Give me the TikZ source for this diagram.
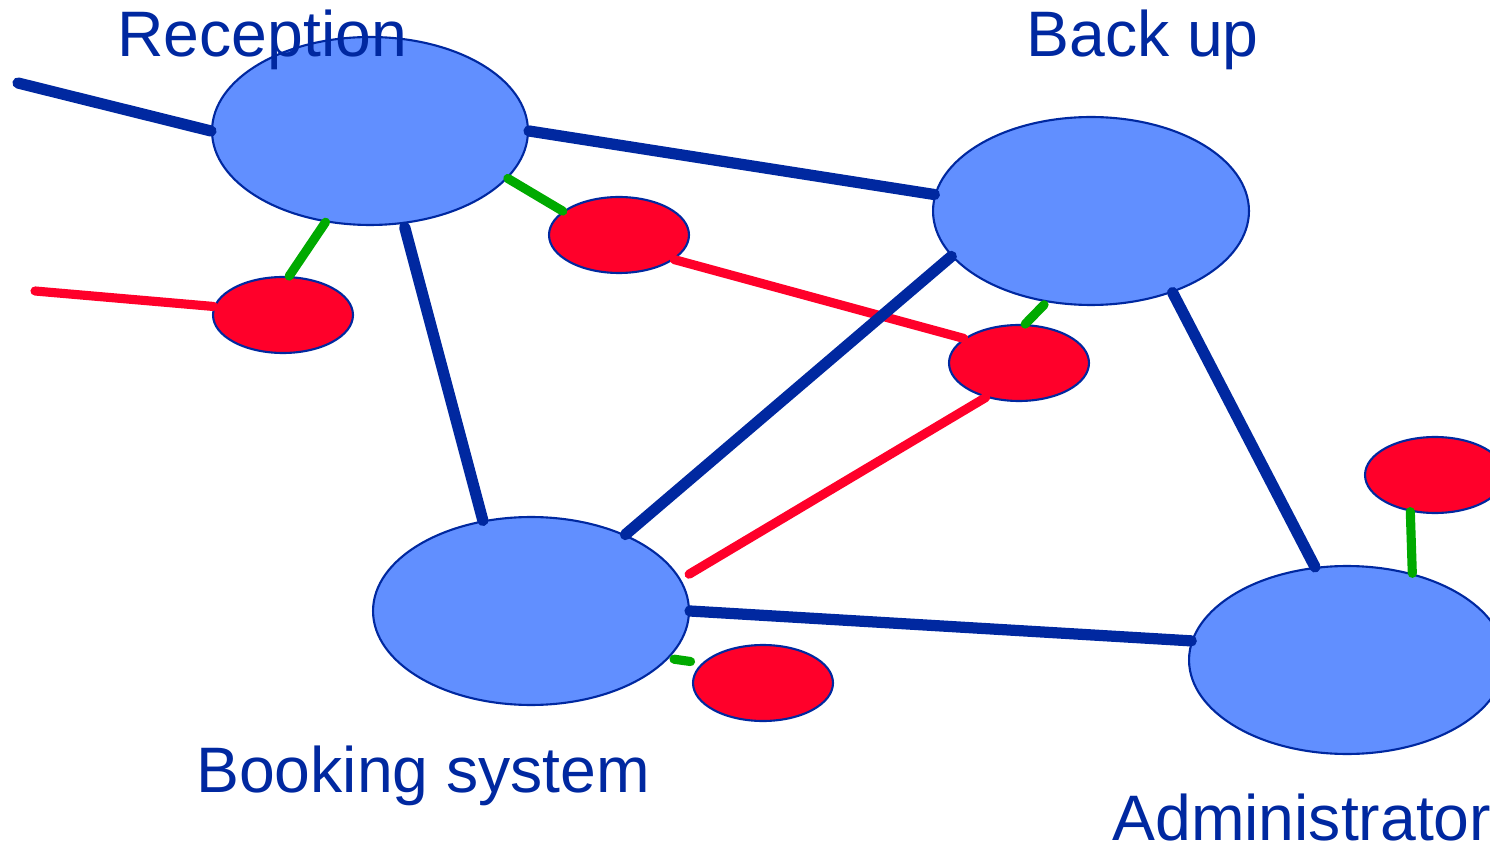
\documentclass[tikz,border=0pt]{standalone}
\usepackage{fontspec}
\setmainfont{Liberation Sans}
\usepackage{tikz}
\usetikzlibrary{shapes.geometric}
\definecolor{netblue}{RGB}{0,40,160}
\definecolor{hubfill}{RGB}{97,143,255}
\definecolor{pcred}{RGB}{255,0,42}
\definecolor{tapgreen}{RGB}{0,170,0}
\tikzset{
  hub/.style={ellipse,draw=netblue,fill=hubfill,line width=1.2pt,
              minimum width=6.32cm,minimum height=3.76cm,inner sep=0pt},
  pc/.style={ellipse,draw=netblue,fill=pcred,line width=1.2pt,
             minimum width=2.8cm,minimum height=1.52cm,inner sep=0pt},
  lan/.style={draw=netblue,line width=6.4pt,line cap=round},   % backbone
  wan/.style={draw=pcred,line width=5.2pt,line cap=round},     % red links
  tap/.style={draw=tapgreen,line width=5.2pt,line cap=round},  % short stubs
  tag/.style={text=netblue,font=\fontsize{36.6}{44}\selectfont,
              anchor=base west,inner sep=0pt}
}

\begin{document}
\begin{tikzpicture}[x=0.02cm,y=-0.02cm]
  \useasboundingbox (0,0) rectangle (1490,847);
  \clip (0,0) rectangle (1490,847);

  % hosts
  \node[hub] (reception) at (370,131) {};
  \node[hub] (backup)    at (1091,211) {};
  \node[hub] (booking)   at (531,611) {};
  \node[hub] (admin)     at (1347,660) {};

  % small red stations
  \node[pc] (pcA) at (283,315) {};
  \node[pc] (pcB) at (619,235) {};
  \node[pc] (pcC) at (1019,363) {};
  \node[pc] (pcD) at (1435,475) {};
  \node[pc] (pcE) at (763,683) {};

  \coordinate (lanin) at (18,83);
  \coordinate (wanin) at (35,291);

  % green stubs
  \draw[tap] (reception.244) -- (pcA.81);
  \draw[tap] (reception.341) -- (pcB.157);
  \draw[tap,shorten <=2pt] (backup.244) -- (pcC.81);
  \draw[tap] (pcD.236) -- (admin.53);
  \draw[tap,shorten <=3pt,shorten >=6.5pt] (booking.341) -- (pcE.162);

  % red links
  \draw[wan] (wanin) -- (pcA.173);
  \draw[wan] (pcB.336) -- (pcC.156);
  \draw[wan,shorten >=5.5pt] (pcC.226) -- (booking.12);

  % blue backbone
  \draw[lan] (lanin) -- (reception.180);
  \draw[lan] (reception.0) -- (backup.174);
  \draw[lan,shorten <=2pt] (reception.290) -- (booking.118);
  \draw[lan] (backup.198) -- (booking.39);
  \draw[lan] (backup.315) -- (admin.109);
  \draw[lan] (booking.0) -- (admin.173);

  % labels
  \node[tag] (recept) at (117,57) {Reception};
  \node[tag] (backupt) at (1026,57) {Back up};
  \node[tag] (bookt) at (196,792) {Booking system};
  \node[tag] (admint) at (1112,840) {Administrator};
\end{tikzpicture}
\end{document}
